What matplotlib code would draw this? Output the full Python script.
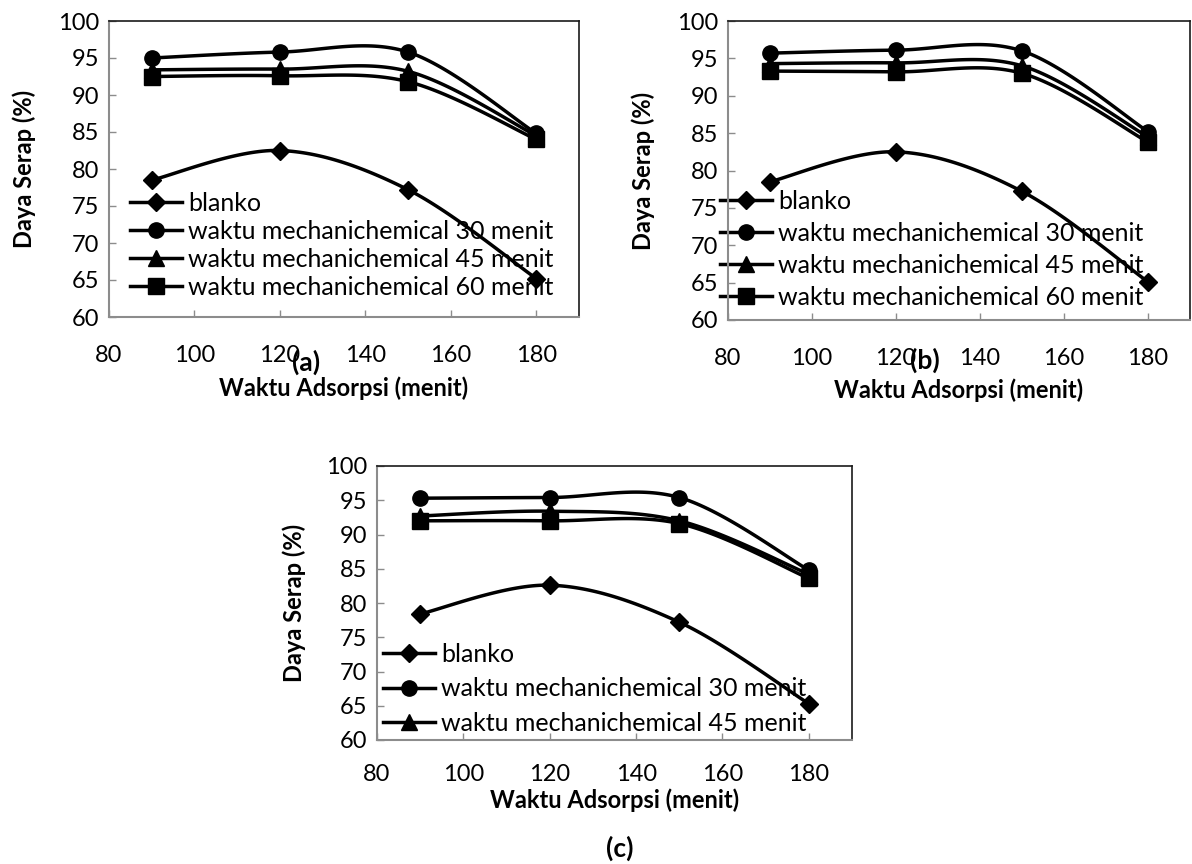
import numpy as np
import matplotlib
matplotlib.use("Agg")
import matplotlib.pyplot as plt

plt.rcParams["font.family"] = ["Lato", "DejaVu Sans"]

W, H = 1192, 864

waktu = [90, 120, 150, 180]
labels = [
    "blanko",
    "waktu mechanichemical 30 menit",
    "waktu mechanichemical 45 menit",
    "waktu mechanichemical 60 menit",
]
markers = ["D", "o", "^", "s"]
msizes = [9, 11, 12, 12]

# panel (a)
a_blanko = [78.5, 82.5, 77.2, 65.2]
a_30 = [95.0, 95.8, 95.8, 84.8]
a_45 = [93.4, 93.5, 93.2, 84.5]
a_60 = [92.5, 92.6, 91.8, 84.0]

# panel (b)
b_blanko = [78.5, 82.5, 77.2, 65.1]
b_30 = [95.7, 96.1, 96.0, 85.2]
b_45 = [94.3, 94.4, 94.0, 84.5]
b_60 = [93.3, 93.2, 93.0, 83.8]

# panel (c)
c_blanko = [78.4, 82.6, 77.2, 65.3]
c_30 = [95.3, 95.4, 95.4, 84.8]
c_45 = [92.7, 93.4, 92.0, 84.2]
c_60 = [92.0, 92.0, 91.6, 83.6]

xticks = [80, 100, 120, 140, 160, 180]
yticks = [60, 65, 70, 75, 80, 85, 90, 95, 100]


def smooth(x, y, n=40):
    # cubic bezier through the points, excel style (1/6 tangents)
    p = np.column_stack([x, y]).astype(float)
    pts = [p[0]]
    for i in range(len(p) - 1):
        p0 = p[i - 1] if i > 0 else p[i]
        p3 = p[i + 2] if i + 2 < len(p) else p[i + 1]
        c1 = p[i] + (p[i + 1] - p0) / 6
        c2 = p[i + 1] - (p3 - p[i]) / 6
        t = np.linspace(0, 1, n)[1:, None]
        seg = ((1 - t) ** 3) * p[i] + 3 * ((1 - t) ** 2) * t * c1 \
            + 3 * (1 - t) * t ** 2 * c2 + t ** 3 * p[i + 1]
        pts.extend(seg)
    pts = np.array(pts)
    return pts[:, 0], pts[:, 1]


def px_axes(fig, l, r, t, b):
    return fig.add_axes([l / W, 1 - b / H, (r - l) / W, (b - t) / H])


def panel(fig, box, series, tag, leg_xy, leg_space, nleg, ylab_x, xlab_y,
          tag_xy, xpad=20):
    l, r, t, b = box
    ax = px_axes(fig, l, r, t, b)
    handles = []
    for vals, m, ms, lab in zip(series, markers, msizes, labels):
        sx, sy = smooth(waktu, vals)
        ax.plot(sx, sy, color="black", lw=2.5, solid_capstyle="round", zorder=2)
        ax.plot(waktu, vals, linestyle="none", marker=m, ms=ms, color="black", zorder=3)
        h, = ax.plot([], [], color="black", lw=2.5, marker=m, ms=ms, label=lab)
        handles.append(h)
    ax.set_xlim(80, 190)
    ax.set_ylim(60, 100)
    ax.set_xticks(xticks)
    ax.set_yticks(yticks)
    ax.tick_params(direction="in", length=5, width=1, color="#8c8c8c", labelsize=17)
    ax.tick_params(axis="x", pad=xpad)
    ax.tick_params(axis="y", pad=7)
    for s in ["left", "bottom"]:
        ax.spines[s].set_color("#8c8c8c")
        ax.spines[s].set_linewidth(1.5)
    for s in ["top", "right"]:
        ax.spines[s].set_color("#1a1a1a")
        ax.spines[s].set_linewidth(1.2)

    leg = ax.legend(handles=handles[:nleg], loc="upper left", frameon=False,
                    bbox_to_anchor=(leg_xy[0] / W, 1 - leg_xy[1] / H),
                    bbox_transform=fig.transFigure, borderpad=0, borderaxespad=0,
                    handlelength=2.08, handletextpad=0.24, labelspacing=leg_space,
                    fontsize=18)
    leg.set_zorder(1)

    fig.text(ylab_x / W, 1 - (t + b) / 2 / H, "Daya Serap (%)", rotation=90,
             ha="center", va="center", fontsize=17, fontweight="bold")
    fig.text((l + r) / 2 / W, 1 - xlab_y / H, "Waktu Adsorpsi (menit)",
             ha="center", va="center", fontsize=17, fontweight="bold")
    fig.text(tag_xy[0] / W, 1 - tag_xy[1] / H, tag, ha="center", va="center",
             fontsize=19, fontweight="bold")
    return ax


fig = plt.figure(figsize=(W / 100, H / 100), dpi=100)

panel(fig, (109, 579, 21, 317), [a_blanko, a_30, a_45, a_60], "(a)",
      (130, 192), 0.2, 4, 24, 388, (306, 362))
panel(fig, (728, 1190, 21, 320), [b_blanko, b_30, b_45, b_60], "(b)",
      (720, 190), 0.36, 4, 643, 390, (925, 360))
panel(fig, (377, 852, 466, 740), [c_blanko, c_30, c_45, c_60], "(c)",
      (383, 643), 0.46, 3, 294, 800, (620, 848), xpad=17)

fig.savefig("out.png", dpi=100)
